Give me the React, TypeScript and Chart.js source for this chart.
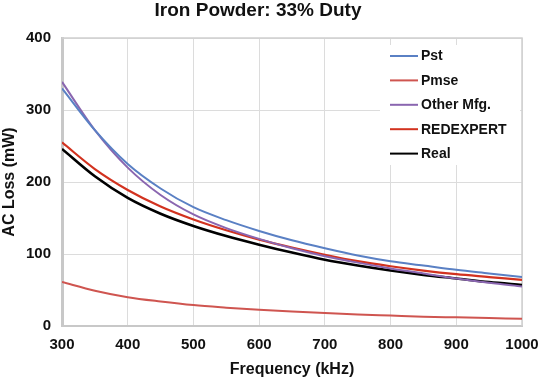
import React, { useEffect, useRef } from "react";
import { Chart, registerables } from "chart.js";

Chart.register(...registerables);

const frequencies = [300, 350, 400, 450, 500, 550, 600, 650, 700, 750, 800, 850, 900, 950, 1000];
const pst = [330, 272, 225, 191, 165, 147, 132, 119, 108, 98, 90, 84, 78, 73, 68];
const pmse = [61, 49, 40, 34, 29, 25.5, 22.5, 20, 18, 16, 14.5, 13, 12, 11, 10];
const otherMfg = [339, 272, 220, 182, 155, 136, 121, 108, 97, 88, 80, 73, 66, 60, 55];
const redexpert = [255, 218, 189, 166, 148, 133, 120, 109, 99, 90, 83, 77, 72, 68, 64];
const real = [246, 208, 178, 156, 139, 125, 113, 102, 92, 84, 77, 71, 66, 61, 57];

const seriesNames = ["Pst", "Pmse", "Other Mfg.", "REDEXPERT", "Real"];
const seriesColors = ["#5A80C4", "#CF5550", "#8A66B0", "#D2321F", "#000000"];
const seriesWidths = [2, 2, 2, 2.2, 2.6];
const titleText = "Iron Powder: 33% Duty";
const xTitle = "Frequency (kHz)";
const yTitle = "AC Loss (mW)";

const FONT = "'Liberation Sans', Arial, sans-serif";

export default function App() {
  const ref = useRef<HTMLCanvasElement | null>(null);

  useEffect(() => {
    if (!ref.current) return;
    const values = [pst, pmse, otherMfg, redexpert, real];
    const datasets = values.map((v, i) => ({
      label: seriesNames[i],
      data: v.map((y, j) => ({ x: frequencies[j], y })),
      borderColor: seriesColors[i],
      backgroundColor: seriesColors[i],
      borderWidth: seriesWidths[i],
      pointRadius: 0,
      cubicInterpolationMode: "monotone" as const,
      fill: false,
    }));

    const titlePlugin = {
      id: "customTitle",
      afterDraw(chart: any) {
        const ctx = chart.ctx;
        ctx.save();
        ctx.font = `bold 19px ${FONT}`;
        ctx.fillStyle = "#111";
        ctx.textAlign = "center";
        ctx.textBaseline = "middle";
        ctx.fillText(titleText, 258, 11);
        ctx.restore();
      },
    };

    const framePlugin = {
      id: "frame",
      beforeDatasetsDraw(chart: any) {
        const ctx = chart.ctx;
        const a = chart.chartArea;
        ctx.save();
        ctx.strokeStyle = "#D0D0D0";
        ctx.lineWidth = 1.5;
        ctx.beginPath();
        ctx.moveTo(a.left, a.top);
        ctx.lineTo(a.right, a.top);
        ctx.lineTo(a.right, a.bottom);
        ctx.stroke();
        ctx.restore();
      },
    };

    const legendPlugin = {
      id: "insideLegend",
      beforeDatasetsDraw(chart: any) {
        const ctx = chart.ctx;
        const a = chart.chartArea;
        const boxLeft = a.right - 142;
        const boxTop = a.top + 7;
        ctx.save();
        ctx.fillStyle = "#ffffff";
        ctx.fillRect(boxLeft, boxTop, 140, 120);
        ctx.font = `bold 14px ${FONT}`;
        ctx.textAlign = "left";
        ctx.textBaseline = "middle";
        seriesNames.forEach((name, i) => {
          const y = a.top + 18 + i * 24.4;
          ctx.strokeStyle = seriesColors[i];
          ctx.lineWidth = 2;
          ctx.beginPath();
          ctx.moveTo(a.right - 132, y);
          ctx.lineTo(a.right - 104, y);
          ctx.stroke();
          ctx.fillStyle = "#111";
          ctx.fillText(name, a.right - 101, y + 0.5);
        });
        ctx.restore();
      },
    };

    const chart = new Chart(ref.current, {
      type: "line",
      data: { datasets },
      options: {
        animation: false,
        responsive: false,
        maintainAspectRatio: false,
        layout: { padding: { top: 38, right: 18, left: 0, bottom: 0 } },
        plugins: {
          legend: { display: false },
          title: { display: false },
          tooltip: { enabled: false },
        },
        scales: {
          x: {
            type: "linear",
            min: 300,
            max: 1000,
            border: { display: true, color: "#C8C8C8", width: 2 },
            grid: { color: "#DCDCDC", lineWidth: 1, drawTicks: false },
            ticks: {
              stepSize: 100,
              padding: 10,
              color: "#111",
              font: { family: FONT, size: 15, weight: "bold" },
              callback: (v: any) => String(v),
            },
            title: {
              display: true,
              text: xTitle,
              color: "#111",
              font: { family: FONT, size: 16, weight: "bold" },
              padding: { top: 0, bottom: 2 },
            },
            afterFit(scale: any) {
              scale.height = 55;
              scale.paddingRight = 0;
              scale.paddingLeft = 0;
            },
          },
          y: {
            min: 0,
            max: 400,
            border: { display: true, color: "#C8C8C8", width: 3 },
            grid: { color: "#DCDCDC", lineWidth: 1, drawTicks: false },
            ticks: {
              stepSize: 100,
              padding: 11,
              color: "#111",
              font: { family: FONT, size: 15, weight: "bold" },
            },
            title: {
              display: true,
              text: yTitle,
              color: "#111",
              font: { family: FONT, size: 16, weight: "bold" },
              padding: { top: 0, bottom: 0 },
            },
            afterFit(scale: any) {
              scale.width = 62;
              scale.paddingTop = 0;
              scale.paddingBottom = 0;
            },
          },
        },
      },
      plugins: [titlePlugin, framePlugin, legendPlugin],
    });
    return () => chart.destroy();
  }, []);

  return (
    <div style={{ position: "fixed", left: 0, top: 0, width: 540, height: 381, background: "#fff" }}>
      <canvas ref={ref} width={540} height={381} style={{ width: 540, height: 381 }} />
    </div>
  );
}
